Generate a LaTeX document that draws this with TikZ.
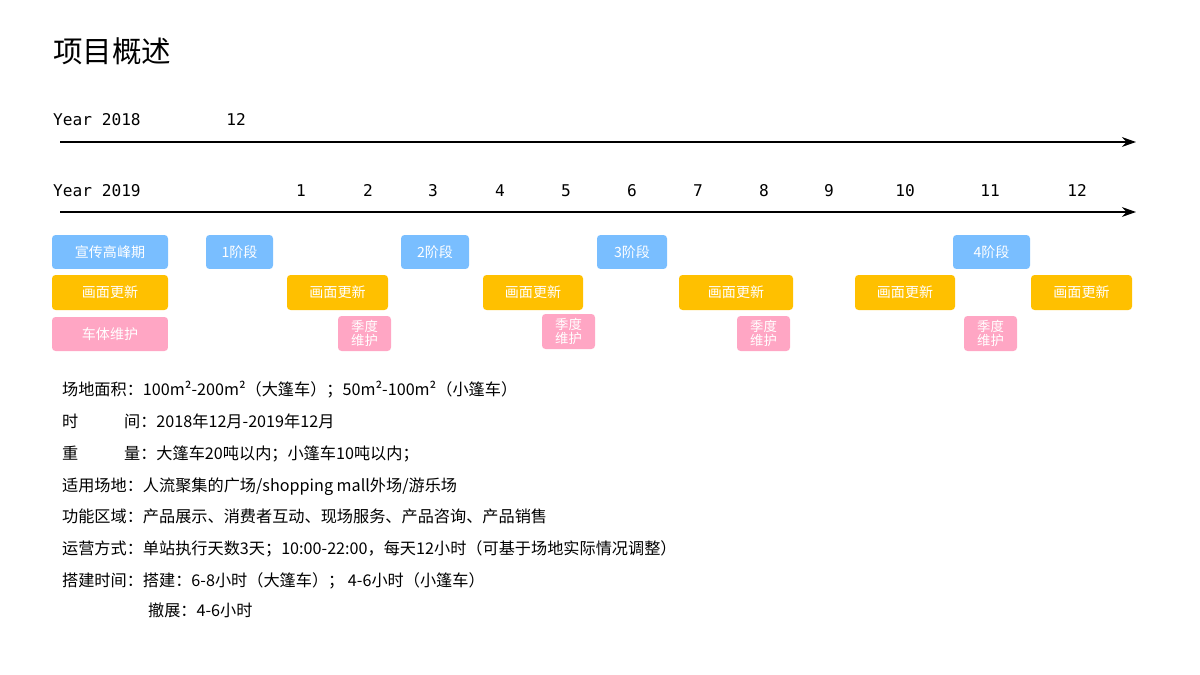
\documentclass[tikz,border=0pt]{standalone}
\usepackage{fontspec}
\setmainfont{Noto Sans CJK SC}
\newfontfamily\monof{DejaVu Sans Mono}
\usetikzlibrary{arrows.meta}
\begin{document}
\begin{tikzpicture}[x=0.05cm,y=-0.05cm,
  bx/.style={rounded corners=5pt,text=white,font=\fontsize{20}{21}\selectfont,inner sep=0pt},
  blu/.style={bx,fill=blueb},
  org/.style={bx,fill=orgb},
  pnk/.style={bx,fill=pnkb},
  axis/.style={line width=2.4pt,-{Stealth[length=20pt,width=14pt]}},
  mon/.style={font=\monof\fontsize{23}{24}\selectfont,anchor=base west},
  mo/.style={font=\monof\fontsize{23}{24}\selectfont,anchor=base},
  tx/.style={font=\fontsize{23}{25}\selectfont,anchor=base west,inner sep=0pt}]
\definecolor{blueb}{HTML}{79BEFF}
\definecolor{orgb}{HTML}{FFC000}
\definecolor{pnkb}{HTML}{FFA6C4}
\useasboundingbox (0,0) rectangle (1200,675);
\node[font=\fontsize{42}{46}\selectfont,anchor=base west,inner sep=0pt] (title) at (53,63) {项目概述};
\coordinate (a1s) at (60,142); \coordinate (a1e) at (1136,142);
\coordinate (a2s) at (60,212); \coordinate (a2e) at (1136,212);
\draw[axis] (a1s) -- (a1e);
\draw[axis] (a2s) -- (a2e);
\node[mon,inner sep=0pt] (y18) at (53,126) {Year 2018};
\node[mo,inner sep=0pt] (m18) at (236,126) {12};
\node[mon,inner sep=0pt] (y19) at (53,197) {Year 2019};
\foreach \m/\x in {1/301,2/368,3/433,4/500,5/566,6/632,7/698,8/764,9/829,10/905,11/990,12/1077}
  \node[mo,inner sep=0pt] (m\m) at (\x,197) {\m};
% blue
\foreach \n/\a/\b/\t in {b0/52/168/宣传高峰期,b1/206/273/1阶段,b2/401/469/2阶段,b3/597/667/3阶段,b4/953/1030/4阶段}
  \node[blu,minimum width={(\b-\a)*0.05cm},minimum height=1.7cm] (\n) at ({(\a+\b)/2},252) {\t};
\foreach \n/\a/\b in {o0/52/168,o1/287/388,o2/483/583,o3/679/793,o4/855/955,o5/1031/1132}
  \node[org,minimum width={(\b-\a)*0.05cm},minimum height=1.75cm] (\n) at ({(\a+\b)/2},292.5) {画面更新};
\node[pnk,minimum width=5.8cm,minimum height=1.7cm] (p0) at (110,334) {车体维护};
\foreach \n/\a/\y in {p1/338/333.5,p2/542/331.5,p3/737/333.5,p4/964/333.5}
  \node[pnk,minimum width=2.65cm,minimum height=1.75cm,align=center,font=\fontsize{19}{21}\selectfont] (\n) at ({\a+26.5},\y) {季度\\维护};
% text
\node[tx] (t1) at (62,395) {场地面积：100m²-200m²（大篷车）；50m²-100m²（小篷车）};
\node[tx] (t2a) at (62,427) {时};
\node[tx] (t2c) at (124,427) {间：2018年12月-2019年12月};
\node[tx] (t3a) at (62,459) {重};
\node[tx] (t3c) at (124,459) {量：大篷车20吨以内；小篷车10吨以内；};
\node[tx] (t4) at (62,491) {适用场地：人流聚集的广场/shopping mall外场/游乐场};
\node[tx] (t5) at (62,522) {功能区域：产品展示、消费者互动、现场服务、产品咨询、产品销售};
\node[tx] (t6) at (62,554) {运营方式：单站执行天数3天；10:00-22:00，每天12小时（可基于场地实际情况调整）};
\node[tx] (t7) at (62,586) {搭建时间：搭建：6-8小时（大篷车）； 4-6小时（小篷车）};
\node[tx] (t8c) at (148,616) {撤展：4-6小时};
\end{tikzpicture}
\end{document}
